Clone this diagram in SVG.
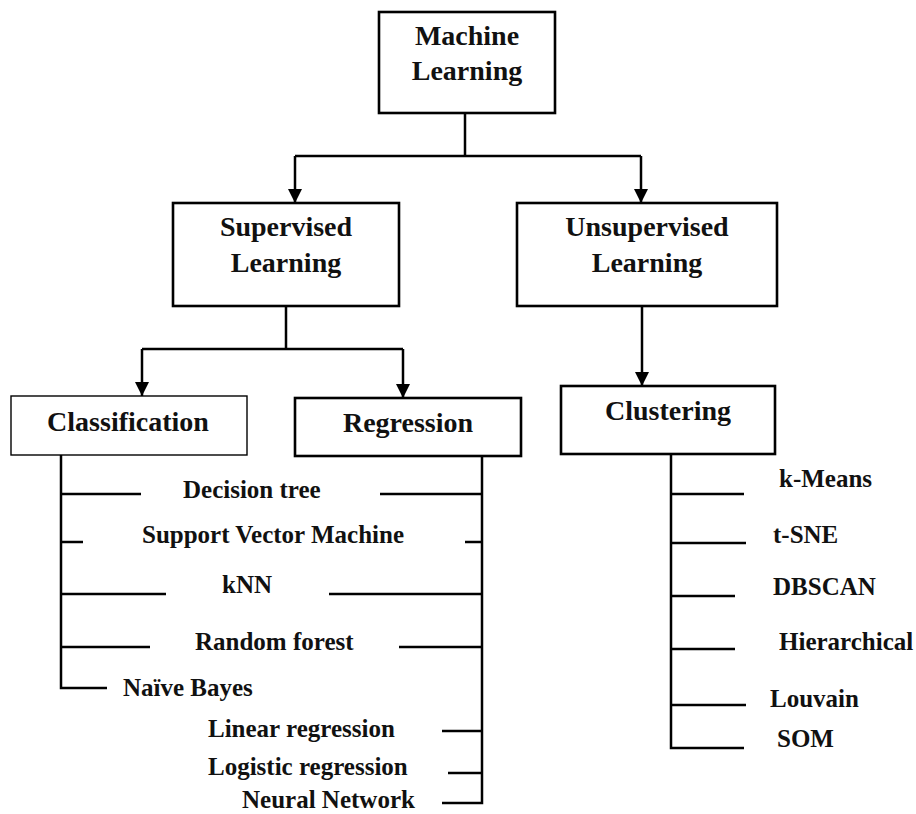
<svg xmlns="http://www.w3.org/2000/svg" width="916" height="814" viewBox="0 0 916 814">
  <defs>
    <marker id="arrow" markerUnits="userSpaceOnUse" markerWidth="14" markerHeight="14" viewBox="0 0 14 14" refX="14" refY="7" orient="auto">
      <path d="M0,0 L14,7 L0,14 Z" fill="#000"/>
    </marker>
    <style>
      .box { fill: #fff; stroke: #000; stroke-width: 2.6; }
      .thin { stroke-width: 1.4; }
      .head { font-size: 28px; fill: #111; text-anchor: middle; }
      .item { font-size: 25px; fill: #111; }
      .wire { fill: none; stroke: #000; stroke-width: 2.5; }
      .arrow { marker-end: url(#arrow); }
    </style>
  </defs>
  <rect width="916" height="814" fill="#fff"/>

  <!-- connectors -->
  <g id="connectors">
    <!-- Machine Learning to its two branches -->
    <path class="wire" d="M465,113 V156 M295,156 H641"/>
    <path class="wire arrow" d="M295,156 V203"/>
    <path class="wire arrow" d="M641,156 V203"/>
    <!-- Supervised to Classification / Regression -->
    <path class="wire" d="M286,306 V349 M142,349 H403"/>
    <path class="wire arrow" d="M142,349 V396"/>
    <path class="wire arrow" d="M403,349 V398"/>
    <!-- Unsupervised to Clustering -->
    <path class="wire arrow" d="M642,306 V386"/>
    <!-- classification rail -->
    <path class="wire" d="M61,455 V688 H107 M61,494 H141 M61,542 H83 M61,594 H166 M61,647 H150"/>
    <!-- regression rail -->
    <path class="wire" d="M482,456 V803 H442 M380,494 H482 M465,542 H482 M329,594 H482 M399,647 H482 M442,731 H482 M448,773 H482"/>
    <!-- clustering rail -->
    <path class="wire" d="M671,454 V748 H744 M671,494 H744 M671,543 H746 M671,596 H735 M671,649 H735 M671,705 H746"/>
  </g>

  <g font-family="'Liberation Serif', 'Times New Roman', serif" font-weight="bold">
    <g id="machine-learning">
      <rect class="box" x="379" y="12" width="176" height="101"/>
      <text class="head" x="467" y="45">Machine</text>
      <text class="head" x="467" y="80">Learning</text>
    </g>

    <g id="supervised">
      <rect class="box" x="173" y="203" width="226" height="103"/>
      <text class="head" x="286" y="236">Supervised</text>
      <text class="head" x="286" y="272">Learning</text>
    </g>

    <g id="unsupervised">
      <rect class="box" x="517" y="203" width="260" height="103"/>
      <text class="head" x="647" y="236">Unsupervised</text>
      <text class="head" x="647" y="272">Learning</text>
    </g>

    <g id="classification">
      <rect class="box thin" x="11" y="396" width="236" height="59"/>
      <text class="head" x="128" y="431">Classification</text>
    </g>

    <g id="regression">
      <rect class="box" x="295" y="398" width="226" height="58"/>
      <text class="head" x="408" y="432">Regression</text>
    </g>

    <g id="clustering">
      <rect class="box" x="561" y="386" width="214" height="68"/>
      <text class="head" x="668" y="420">Clustering</text>
    </g>

    <g id="shared-methods">
      <text class="item" x="183" y="498">Decision tree</text>
      <text class="item" x="142" y="543">Support Vector Machine</text>
      <text class="item" x="222" y="593">kNN</text>
      <text class="item" x="195" y="650">Random forest</text>
    </g>

    <g id="classification-methods">
      <text class="item" x="123" y="696">Naïve Bayes</text>
    </g>

    <g id="regression-methods">
      <text class="item" x="208" y="737">Linear regression</text>
      <text class="item" x="208" y="775">Logistic regression</text>
      <text class="item" x="242" y="808">Neural Network</text>
    </g>

    <g id="clustering-methods">
      <text class="item" x="779" y="487">k-Means</text>
      <text class="item" x="773" y="543">t-SNE</text>
      <text class="item" x="773" y="595">DBSCAN</text>
      <text class="item" x="779" y="650">Hierarchical</text>
      <text class="item" x="770" y="707">Louvain</text>
      <text class="item" x="777" y="747">SOM</text>
    </g>
  </g>
</svg>
